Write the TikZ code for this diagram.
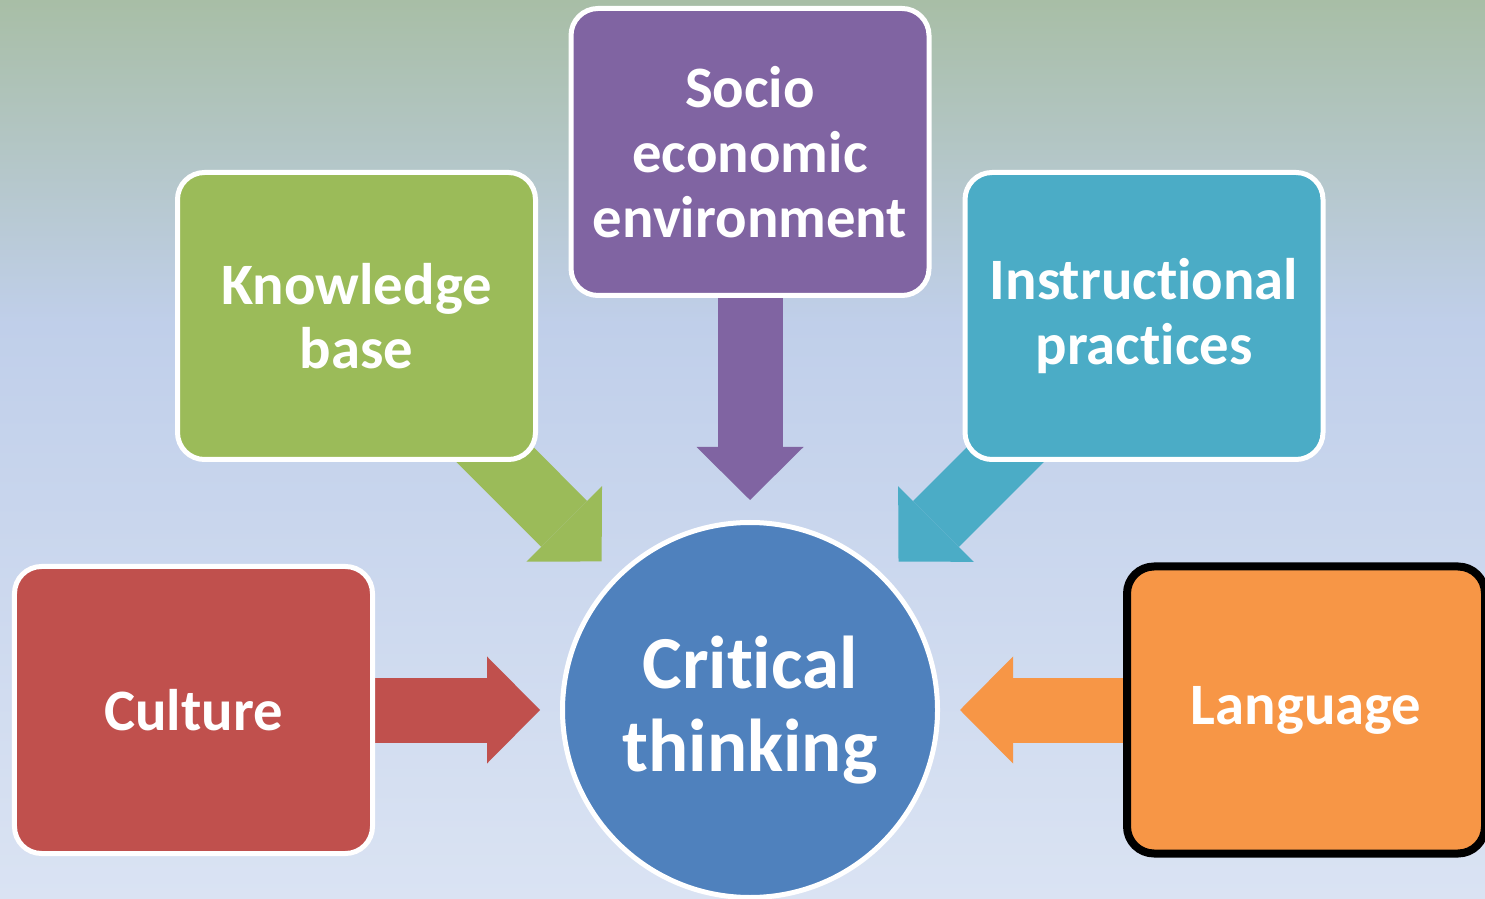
\documentclass[tikz,border=0pt]{standalone}
\usepackage{fontspec}
\setmainfont{Carlito}[Ligatures=NoCommon]
\usepackage{xcolor}
\usepackage{tikz}
\usetikzlibrary{positioning,shapes,arrows.meta,backgrounds}
\definecolor{bgtop}{HTML}{A8BEA6}
\definecolor{bgmid}{HTML}{C0CFEA}
\definecolor{bgbot}{HTML}{DAE3F3}
\definecolor{hubblue}{HTML}{4F81BD}
\definecolor{kbgreen}{HTML}{9BBB59}
\definecolor{sepurple}{HTML}{8064A2}
\definecolor{ipteal}{HTML}{4BACC6}
\definecolor{culred}{HTML}{C0504D}
\definecolor{langorange}{HTML}{F79646}
% the path is fitted to the 25bp--75bp band of the shading
\pgfdeclareverticalshading{bgfade}{100bp}{color(0bp)=(bgbot); color(25bp)=(bgbot); color(57bp)=(bgmid); color(75bp)=(bgtop); color(100bp)=(bgtop)}
\pgfdeclarelayer{links}
\pgfsetlayers{background,links,main}
\tikzset{
    factor/.style={rectangle, draw=white, line width=0.05cm, rounded corners=0.27cm, minimum width=3.58cm, minimum height=2.87cm, align=center, text=white, font=\fontsize{16.7}{18.4}\selectfont\bfseries},
    hub/.style={circle, draw=white, line width=0.05cm, minimum size=3.75cm, fill=hubblue, align=center, text=white, font=\fontsize{21.3}{23.5}\selectfont\bfseries},
    feed/.style={line width=0.65cm, -{Triangle[width=1.07cm, length=0.53cm, line width=0pt]}, shorten >=0.2cm}
}

\begin{document}
\begin{tikzpicture}

\useasboundingbox (0,0) rectangle (14.85,8.98);
\begin{pgfonlayer}{background}
\shade[shading=bgfade] (0,0) rectangle (14.85,8.98);
\end{pgfonlayer}

\node[hub] (ct) at (7.50,1.88) {Critical\\thinking};
\node[factor, fill=sepurple, above=2.22cm of ct] (socio) {Socio\\economic\\environment};
\node[factor, fill=kbgreen] (kb) at (3.565,5.82) {Knowledge\\base};
\node[factor, fill=ipteal] (instr) at (11.44,5.82) {Instructional\\practices};
\node[factor, fill=culred, left=1.85cm of ct] (culture) {Culture};
\node[factor, fill=langorange, draw=black, line width=0.08cm, right=1.83cm of ct] (lang) {Language};

% block arrows sit under the boxes
\begin{pgfonlayer}{links}
\draw[feed, draw=sepurple] (socio.center) -- (ct);
\draw[feed, draw=kbgreen] (kb.center) -- (ct);
\draw[feed, draw=ipteal] (instr.center) -- (ct);
\draw[feed, draw=culred] (culture.center) -- (ct);
\draw[feed, draw=langorange] (lang.center) -- (ct);
\end{pgfonlayer}

\end{tikzpicture}
\end{document}
